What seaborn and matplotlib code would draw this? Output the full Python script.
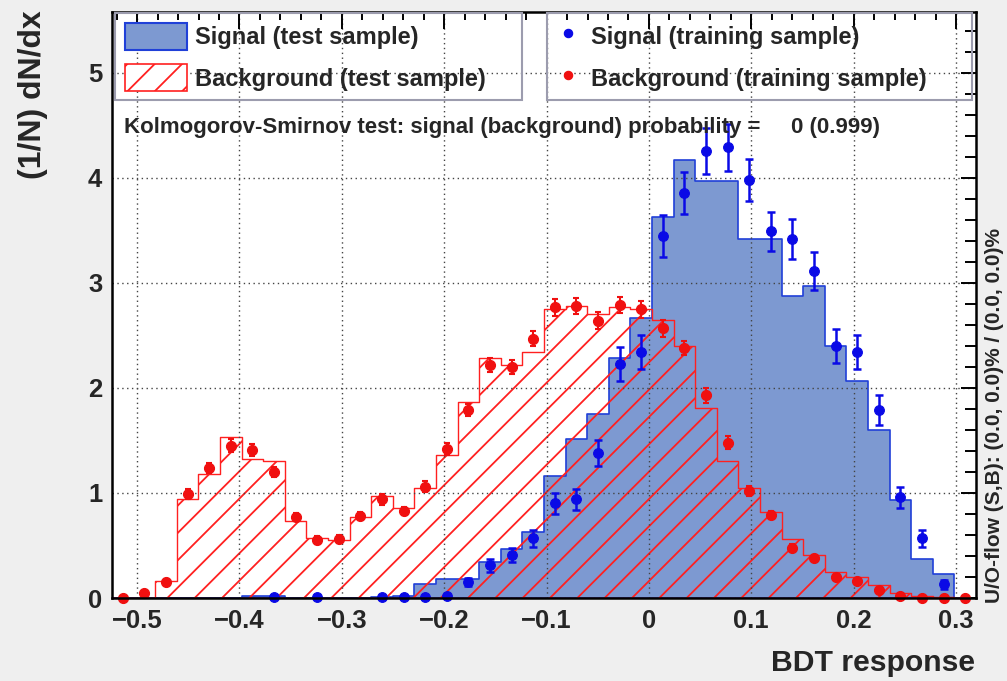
import numpy as np
import pandas as pd
import matplotlib
matplotlib.use("Agg")
import matplotlib.pyplot as plt
import seaborn as sns
from matplotlib.patches import Patch, Rectangle
from matplotlib.lines import Line2D
from matplotlib.ticker import MultipleLocator

# ---------------- data ----------------
x_range = (-0.5245, 0.3195)
n_bins = 40

sig_test = [0.0, 0.0, 0.0, 0.0, 0.0, 0.0, 0.02, 0.02, 0.0, 0.0,
            0.0, 0.0, 0.01, 0.02, 0.13, 0.18, 0.18, 0.34, 0.47, 0.63,
            1.16, 1.51, 1.75, 2.29, 2.67, 3.63, 4.17, 3.97, 3.97, 3.42,
            3.42, 2.88, 2.97, 2.40, 2.07, 1.60, 0.93, 0.37, 0.23, 0.0]

sig_train = [np.nan, np.nan, np.nan, np.nan, np.nan, np.nan, np.nan, 0.01, np.nan, 0.01,
             np.nan, np.nan, 0.01, 0.01, 0.01, 0.02, 0.15, 0.31, 0.41, 0.57,
             0.90, 0.94, 1.38, 2.23, 2.34, 3.45, 3.86, 4.26, 4.29, 3.98,
             3.49, 3.42, 3.11, 2.40, 2.34, 1.79, 0.96, 0.57, 0.13, np.nan]

sig_train_err = [0.0, 0.0, 0.0, 0.0, 0.0, 0.0, 0.0, 0.01, 0.0, 0.01,
                 0.0, 0.0, 0.01, 0.01, 0.01, 0.01, 0.04, 0.06, 0.07, 0.08,
                 0.10, 0.10, 0.12, 0.16, 0.16, 0.20, 0.20, 0.22, 0.22, 0.20,
                 0.19, 0.19, 0.18, 0.16, 0.16, 0.14, 0.10, 0.08, 0.04, 0.0]

bkg_test = [0.0, 0.0, 0.16, 0.94, 1.18, 1.53, 1.32, 1.30, 0.73, 0.57,
            0.55, 0.77, 0.97, 0.86, 1.05, 1.36, 1.87, 2.29, 2.22, 2.34,
            2.75, 2.78, 2.70, 2.77, 2.75, 2.65, 2.40, 1.81, 1.30, 1.05,
            0.82, 0.56, 0.41, 0.25, 0.20, 0.12, 0.05, 0.02, 0.01, 0.0]

bkg_train = [0.0, 0.05, 0.15, 0.99, 1.24, 1.45, 1.41, 1.20, 0.77, 0.55,
             0.56, 0.78, 0.94, 0.83, 1.06, 1.42, 1.79, 2.22, 2.20, 2.47,
             2.77, 2.78, 2.64, 2.79, 2.75, 2.57, 2.38, 1.93, 1.48, 1.02,
             0.79, 0.48, 0.38, 0.20, 0.16, 0.08, 0.02, 0.0, 0.0, 0.0]

bkg_train_err = [0.0, 0.02, 0.03, 0.05, 0.05, 0.06, 0.06, 0.05, 0.04, 0.04,
                 0.04, 0.04, 0.05, 0.04, 0.05, 0.06, 0.06, 0.07, 0.07, 0.07,
                 0.08, 0.08, 0.08, 0.08, 0.08, 0.08, 0.07, 0.07, 0.06, 0.05,
                 0.04, 0.03, 0.03, 0.02, 0.02, 0.01, 0.01, 0.0, 0.0, 0.0]

x_ticks = [-0.5, -0.4, -0.3, -0.2, -0.1, 0.0, 0.1, 0.2, 0.3]
x_tick_labels = ["\u22120.5", "\u22120.4", "\u22120.3", "\u22120.2", "\u22120.1", "0", "0.1", "0.2", "0.3"]
y_ticks = [0, 1, 2, 3, 4, 5]
y_tick_labels = ["0", "1", "2", "3", "4", "5"]
y_max = 5.58

legend_left = ["Signal (test sample)", "Background (test sample)"]
legend_right = ["Signal (training sample)", "Background (training sample)"]
ks_text = "Kolmogorov-Smirnov test: signal (background) probability =     0 (0.999)"
overflow_text = "U/O-flow (S,B): (0.0, 0.0)% / (0.0, 0.0)%"
x_title = "BDT response"
y_title = "(1/N) dN/dx"

# ---------------- style ----------------
DPI = 82
S = 100.0 / DPI   # keeps sizes as at 100 dpi while making the hatch finer

sns.set_theme(style="white")
plt.rcParams['font.family'] = ['Liberation Sans', 'DejaVu Sans']
plt.rcParams['font.weight'] = 'bold'
plt.rcParams['hatch.linewidth'] = 1.3 * S
plt.rcParams['axes.unicode_minus'] = True

SIG_FILL = '#7d99d1'
SIG_LINE = '#2040d8'
SIG_PT = '#0a0ae6'
BKG_LINE = '#ff2020'
BKG_PT = '#f01010'

W, H = 1007, 681
fig = plt.figure(figsize=(W / DPI, H / DPI), dpi=DPI, facecolor='#efefef')
ax_l, ax_r, ax_t, ax_b = 112, 976, 12, 598
ax = fig.add_axes([ax_l / W, 1 - ax_b / H, (ax_r - ax_l) / W, (ax_b - ax_t) / H])
ax.set_facecolor('white')

edges = list(np.linspace(x_range[0], x_range[1], n_bins + 1))
centers = [0.5 * (a + b) for a, b in zip(edges[:-1], edges[1:])]
df = pd.DataFrame({"x": centers, "sig": sig_test, "bkg": bkg_test,
                   "sig_tr": sig_train, "sig_err": sig_train_err,
                   "bkg_tr": bkg_train, "bkg_err": bkg_train_err})

sns.histplot(data=df, x="x", weights="sig", bins=edges, element="step", fill=True,
             color=SIG_FILL, facecolor=SIG_FILL, edgecolor=SIG_LINE, linewidth=1.2 * S,
             ax=ax, zorder=1)
sns.histplot(data=df, x="x", weights="bkg", bins=edges, element="step", fill=True,
             color=BKG_LINE, facecolor='none', edgecolor=BKG_LINE, linewidth=1.0 * S,
             hatch='/', ax=ax, zorder=1.5)

ax.errorbar(df["x"], df["sig_tr"], yerr=df["sig_err"], fmt='o', color=SIG_PT,
            markersize=7 * S, elinewidth=1.8 * S, capsize=3 * S, capthick=1.8 * S,
            zorder=3, clip_on=False)
ax.errorbar(df["x"], df["bkg_tr"], yerr=df["bkg_err"], fmt='o', color=BKG_PT,
            markersize=7.2 * S, elinewidth=1.5 * S, capsize=2 * S, capthick=1.5 * S,
            zorder=3, clip_on=False)

ax.set_xlim(*x_range)
ax.set_ylim(0, y_max)
ax.set_xlabel("")
ax.set_ylabel("")
ax.set_xticks(x_ticks, x_tick_labels)
ax.set_yticks(y_ticks, y_tick_labels)
ax.xaxis.set_minor_locator(MultipleLocator(0.02))
ax.yaxis.set_minor_locator(MultipleLocator(0.2))
ax.tick_params(axis='both', which='both', direction='in', top=True, right=True,
               color='black', width=1.4 * S)
ax.tick_params(axis='x', which='major', length=12 * S, pad=8 * S, labelsize=18.5 * S)
ax.tick_params(axis='x', which='minor', length=6 * S)
ax.tick_params(axis='y', which='major', length=11 * S, pad=7 * S, labelsize=18.5 * S)
ax.tick_params(axis='y', which='minor', length=8 * S)
for lab in ax.get_xticklabels() + ax.get_yticklabels():
    lab.set_fontweight('bold')
ax.set_axisbelow(False)
ax.grid(True, which='major', color='#444444', linestyle=(0, (1, 2.5)), linewidth=1.0 * S)
for s in ax.spines.values():
    s.set_color('black')
    s.set_linewidth(1.8 * S)
    s.set_zorder(4)

# ---------------- legends ----------------
def ax_x(px):
    return (px - ax_l) / (ax_r - ax_l)

def ax_y(py):
    return (ax_b - py) / (ax_b - ax_t)

box_col = '#9c9cae'
for x0, x1 in [(115, 522), (547, 972)]:
    ax.add_patch(Rectangle((ax_x(x0), ax_y(100)), ax_x(x1) - ax_x(x0), ax_y(ax_t + 1) - ax_y(100),
                           transform=ax.transAxes, fill=False, edgecolor=box_col,
                           linewidth=1.5 * S, zorder=5, clip_on=False))

LEG_FS = 17 * S
h_left = [Patch(facecolor=SIG_FILL, edgecolor=SIG_LINE, linewidth=1.5 * S),
          Patch(facecolor='white', edgecolor=BKG_LINE, hatch='/', linewidth=1.2 * S)]
leg1 = ax.legend(h_left, legend_left, loc='center left',
                 bbox_to_anchor=(ax_x(125), ax_y(57)), frameon=False, fontsize=LEG_FS,
                 handlelength=2.63, handleheight=1.38, labelspacing=0.62, handletextpad=0.35,
                 borderpad=0, borderaxespad=0)
for t in leg1.get_texts():
    t.set_fontweight('bold')
ax.add_artist(leg1)

h_right = [Line2D([], [], marker='o', linestyle='none', color=SIG_PT, markersize=6 * S),
           Line2D([], [], marker='o', linestyle='none', color=BKG_PT, markersize=6 * S)]
leg2 = ax.legend(h_right, legend_right, loc='center left',
                 bbox_to_anchor=(ax_x(553), ax_y(57)), frameon=False, fontsize=LEG_FS,
                 handlelength=1.3, handleheight=1.38, labelspacing=0.62, handletextpad=0.3,
                 borderpad=0, borderaxespad=0)
for t in leg2.get_texts():
    t.set_fontweight('bold')

# ---------------- texts ----------------
ax.text(ax_x(124), ax_y(127), ks_text, transform=ax.transAxes, ha='left', va='center',
        fontsize=16 * S, fontweight='bold', zorder=6)
fig.text(33 / W, 1 - 10 / H, y_title, rotation=90, ha='center', va='top',
         fontsize=23 * S, fontweight='bold')
fig.text(975 / W, 1 - 663 / H, x_title, ha='right', va='center',
         fontsize=21.7 * S, fontweight='bold')
fig.text(994 / W, 1 - 603 / H, overflow_text, rotation=90, ha='center', va='bottom',
         fontsize=15 * S, fontweight='bold')

fig.savefig("out.png", dpi=DPI, facecolor=fig.get_facecolor())
